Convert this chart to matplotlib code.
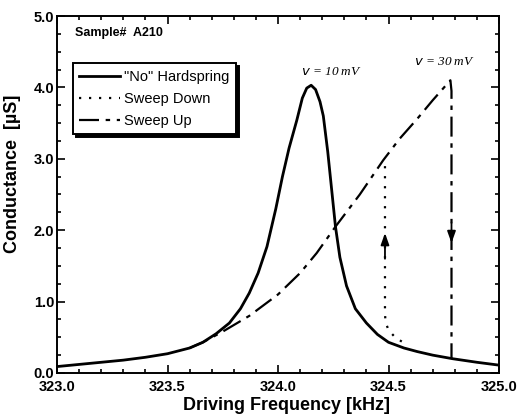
import matplotlib.pyplot as plt
from matplotlib.ticker import MultipleLocator, FormatStrFormatter

# "No" hardspring response (v = 10 mV)
freq_nohs = [323.00, 323.10, 323.20, 323.30, 323.40, 323.50, 323.60, 323.66,
             323.72, 323.78, 323.83, 323.87, 323.91, 323.95, 323.99, 324.02,
             324.05, 324.085, 324.11, 324.13, 324.15, 324.17, 324.19, 324.205,
             324.225, 324.245, 324.26, 324.28, 324.31, 324.35, 324.40, 324.45,
             324.50, 324.57, 324.63, 324.70, 324.79, 324.90, 325.00]
cond_nohs = [0.09, 0.12, 0.15, 0.18, 0.22, 0.27, 0.35, 0.43,
             0.55, 0.70, 0.90, 1.12, 1.40, 1.77, 2.30, 2.75,
             3.15, 3.54, 3.85, 3.99, 4.03, 3.97, 3.80, 3.60,
             3.10, 2.50, 2.05, 1.62, 1.22, 0.90, 0.70, 0.54,
             0.43, 0.35, 0.30, 0.25, 0.20, 0.15, 0.11]

# sweep up (v = 30 mV), ends with the jump down
freq_up = [323.60, 323.66, 323.75, 323.87, 324.00, 324.10, 324.175, 324.26,
           324.37, 324.476, 324.55, 324.63, 324.70, 324.78, 324.785, 324.785]
cond_up = [0.35, 0.43, 0.58, 0.80, 1.10, 1.40, 1.68, 2.05,
           2.50, 2.98, 3.28, 3.56, 3.82, 4.10, 3.95, 0.20]

# sweep down: lower branch tail and jump up
freq_down = [324.56, 324.53, 324.50, 324.486, 324.484, 324.484]
cond_down = [0.44, 0.50, 0.60, 0.72, 0.85, 2.96]

# arrows (x, y_start, y_end)
arrow_up = (324.484, 1.60, 1.96)
arrow_down = (324.785, 2.10, 1.82)

plt.rcParams["font.family"] = ["Liberation Sans", "DejaVu Sans"]

fig = plt.figure(figsize=(5.25, 4.19), dpi=100)
ax = fig.add_axes([0.1086, 0.1098, 0.8419, 0.852])

ax.plot(freq_nohs, cond_nohs, color="black", lw=2.0, solid_joinstyle="round",
        label='"No" Hardspring')
ax.plot(freq_down, cond_down, color="black", lw=1.6, linestyle=(0, (1, 3.5)),
        label="Sweep Down")
ax.plot(freq_up, cond_up, color="black", lw=1.6, linestyle=(0, (9, 3, 2, 3)),
        label="Sweep Up")

for x, y0, y1 in [arrow_up, arrow_down]:
    ax.annotate("", xy=(x, y1), xytext=(x, y0),
                arrowprops=dict(arrowstyle="-|>,head_length=0.7,head_width=0.25",
                                color="black", lw=1.3, shrinkA=0, shrinkB=0))

ax.text(324.24, 4.22, r"$v$ = 10 mV", ha="center", va="center", fontsize=9.5,
        family="Liberation Serif", style="italic")
ax.text(324.755, 4.36, r"$v$ = 30 mV", ha="center", va="center", fontsize=9.5,
        family="Liberation Serif", style="italic")
ax.text(323.08, 4.76, "Sample#  A210", fontsize=9, fontweight="bold",
        va="center")

ax.set_xlim(323.0, 325.0)
ax.set_ylim(0.0, 5.0)
ax.xaxis.set_major_locator(MultipleLocator(0.5))
ax.xaxis.set_minor_locator(MultipleLocator(0.1))
ax.yaxis.set_major_locator(MultipleLocator(1.0))
ax.yaxis.set_minor_locator(MultipleLocator(0.25))
ax.xaxis.set_major_formatter(FormatStrFormatter("%.1f"))
ax.yaxis.set_major_formatter(FormatStrFormatter("%.1f"))
ax.tick_params(which="both", direction="in", top=True, right=True,
               labelsize=10.5, width=1.2)
ax.tick_params(axis="x", pad=5)
ax.tick_params(axis="y", pad=2)
ax.tick_params(which="major", length=6)
ax.tick_params(which="minor", length=3)
for lbl in ax.get_xticklabels() + ax.get_yticklabels():
    lbl.set_fontweight("bold")
for sp in ax.spines.values():
    sp.set_linewidth(1.4)

ax.set_xlabel("Driving Frequency [kHz]", fontsize=13, fontweight="bold")
ax.xaxis.set_label_coords(0.52, -0.068)
ax.set_ylabel("Conductance  [\u00b5S]", fontsize=13, fontweight="bold")
ax.yaxis.set_label_coords(-0.081, 0.557)

leg = ax.legend(loc="upper left", bbox_to_anchor=(0.036, 0.868), borderaxespad=0,
                fontsize=10.5, handlelength=2.75, handletextpad=0.3,
                labelspacing=0.55, borderpad=0.45, fancybox=False,
                shadow={"color": "black", "alpha": 1.0, "ox": 2, "oy": -2})
leg.get_frame().set_edgecolor("black")
leg.get_frame().set_linewidth(1.4)

fig.savefig("out.png", dpi=100)
